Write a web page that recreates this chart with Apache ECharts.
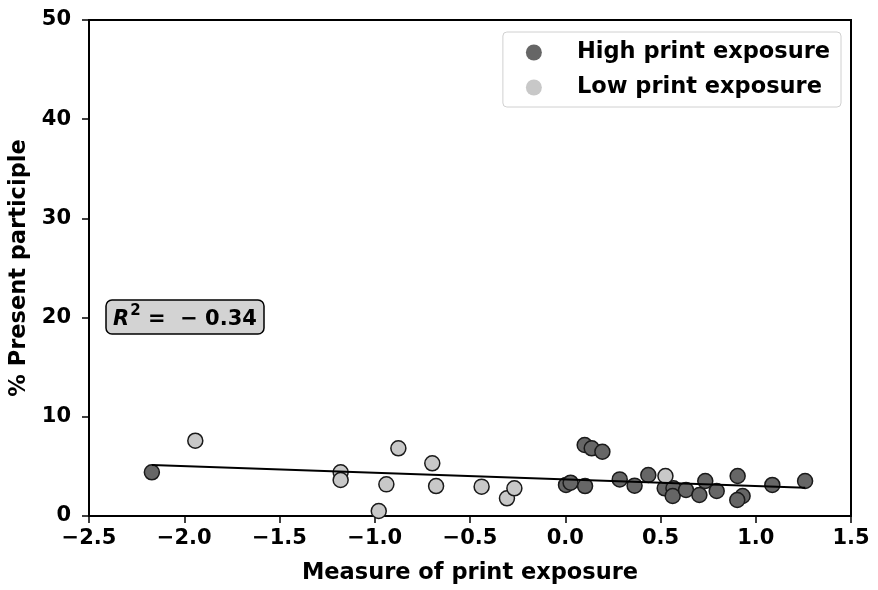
<!DOCTYPE html>
<html>
<head>
<meta charset="utf-8">
<script src="https://cdn.jsdelivr.net/npm/echarts@6/dist/echarts.min.js"></script>
<style>html,body{margin:0;padding:0;background:#fff}#c{width:878px;height:590px}</style>
</head>
<body>
<div id="c"></div>
<script>
// Data
const highX = [-2.17, 0.004, 0.028, 0.102, 0.139, 0.195, 0.104, 0.286, 0.364, 0.436, 0.522, 0.568, 0.564, 0.634, 0.704, 0.735, 0.795, 0.905, 0.931, 0.903, 1.087, 1.259];
const highY = [4.40, 3.13, 3.36, 7.16, 6.82, 6.48, 3.02, 3.69, 3.06, 4.13, 2.79, 2.79, 2.02, 2.62, 2.12, 3.53, 2.52, 4.03, 2.02, 1.61, 3.13, 3.53];
const lowX = [-1.942, -1.179, -1.179, -0.876, -0.939, -0.979, -0.698, -0.678, -0.439, -0.306, -0.267, 0.526];
const lowY = [7.59, 4.40, 3.63, 6.82, 3.19, 0.50, 5.31, 3.02, 2.96, 1.78, 2.79, 4.03];
const fitX = [-2.17, 1.26];
const fitY = [5.15, 2.85];
const xTicks = [-2.5, -2.0, -1.5, -1.0, -0.5, 0.0, 0.5, 1.0, 1.5];
const yTicks = [0, 10, 20, 30, 40, 50];
const seriesNames = ['High print exposure', 'Low print exposure'];
const annotation = ['R', '2', ' =  − 0.34'];

const zip = (a, b) => a.map((v, i) => [v, b[i]]);
const font = 'DejaVu Sans';
const chart = echarts.init(document.getElementById('c'), null, {renderer: 'canvas'});
chart.setOption({
  animation: false,
  textStyle: {fontFamily: font},
  grid: {left: 89, right: 27, top: 20, bottom: 74, containLabel: false, outerBoundsMode: 'none',
    show: true, borderColor: '#000', borderWidth: 2, backgroundColor: 'transparent'},
  title: {
    text: '{i|' + annotation[0] + '}{s|' + annotation[1] + '}{n|' + annotation[2] + '}',
    left: 106, top: 300,
    padding: [4, 7, 4, 7],
    backgroundColor: '#d3d3d3',
    borderColor: '#000', borderWidth: 1.5, borderRadius: 6,
    textStyle: {
      rich: {
        i: {fontFamily: font, fontWeight: 'bold', fontStyle: 'italic', fontSize: 21, color: '#000', verticalAlign: 'bottom', lineHeight: 26},
        s: {fontFamily: font, fontWeight: 'bold', fontSize: 15, color: '#000', verticalAlign: 'top', lineHeight: 26, padding: [0, 0, 10, 1]},
        n: {fontFamily: font, fontWeight: 'bold', fontSize: 21, color: '#000', verticalAlign: 'bottom', lineHeight: 26}
      }
    }
  },
  legend: {
    data: seriesNames,
    right: 37, top: 32,
    orient: 'vertical',
    icon: 'circle',
    itemWidth: 16, itemHeight: 16, itemGap: 12,
    padding: [9, 11, 8, 23],
    borderColor: '#d0d0d0', borderWidth: 1, borderRadius: 4,
    backgroundColor: '#fff',
    itemStyle: {borderWidth: 0},
    textStyle: {fontFamily: font, fontWeight: 'bold', fontSize: 22.5, lineHeight: 22, color: '#000', padding: [0, 0, 0, 30]}
  },
  xAxis: {
    type: 'value', min: xTicks[0], max: xTicks[xTicks.length - 1], interval: 0.5,
    name: 'Measure of print exposure', nameLocation: 'middle', nameGap: 46,
    nameTextStyle: {fontFamily: font, fontWeight: 'bold', fontSize: 22.5, color: '#000'},
    axisLine: {show: true, onZero: false, lineStyle: {color: '#000', width: 2}},
    axisTick: {show: true, inside: false, length: 7, lineStyle: {color: '#000', width: 1.5}},
    axisLabel: {fontFamily: font, fontWeight: 'bold', fontSize: 21, color: '#000', margin: 12,
      formatter: v => (v < 0 ? '−' : '') + Math.abs(v).toFixed(1)},
    splitLine: {show: false}
  },
  yAxis: {
    type: 'value', min: yTicks[0], max: yTicks[yTicks.length - 1], interval: 10,
    name: '% Present participle', nameLocation: 'middle', nameGap: 58,
    nameTextStyle: {fontFamily: font, fontWeight: 'bold', fontSize: 22.5, color: '#000'},
    axisLine: {show: true, onZero: false, lineStyle: {color: '#000', width: 2}},
    axisTick: {show: true, inside: false, length: 7, lineStyle: {color: '#000', width: 1.5}},
    axisLabel: {fontFamily: font, fontWeight: 'bold', fontSize: 21, color: '#000', margin: 18},
    splitLine: {show: false}
  },
  series: [
    {
      name: 'fit', type: 'line', data: zip(fitX, fitY), showSymbol: false, symbol: 'none',
      lineStyle: {color: '#000', width: 2}, z: 3, silent: true
    },
    {
      name: seriesNames[0], type: 'scatter', data: zip(highX, highY), symbolSize: 15,
      itemStyle: {color: '#666666', borderColor: '#1a1a1a', borderWidth: 1.5, opacity: 1}, z: 2
    },
    {
      name: seriesNames[1], type: 'scatter', data: zip(lowX, lowY), symbolSize: 15,
      itemStyle: {color: '#c8c8c8', borderColor: '#1a1a1a', borderWidth: 1.5, opacity: 1}, z: 2
    }
  ]
});
</script>
</body>
</html>
